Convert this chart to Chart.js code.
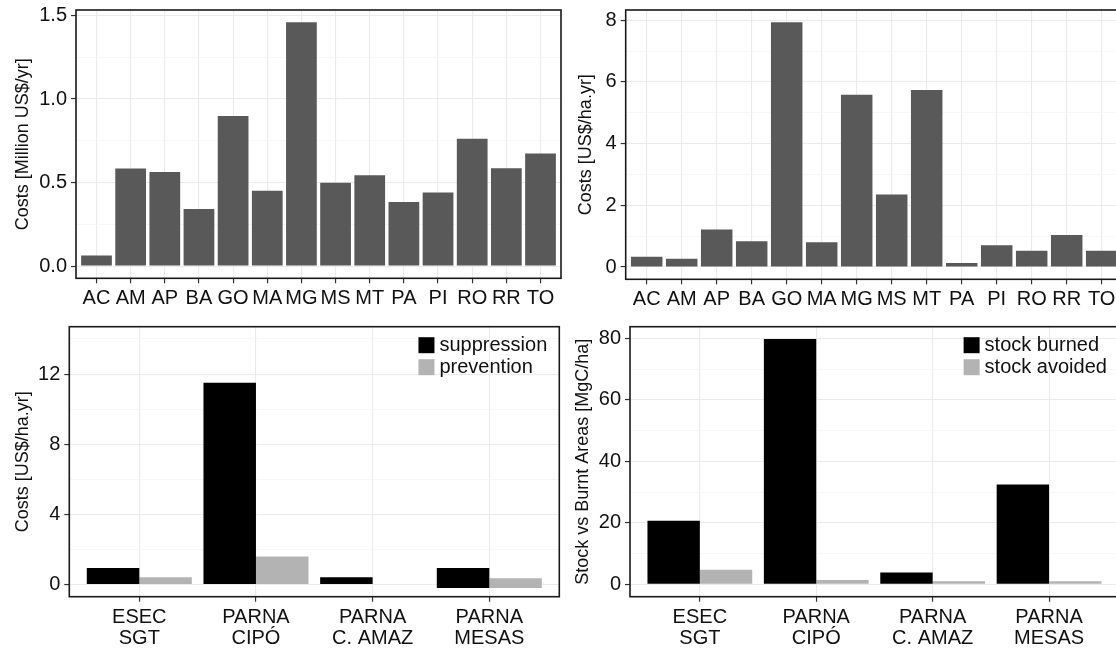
<!DOCTYPE html>
<html><head><meta charset="utf-8">
<script src="https://cdn.jsdelivr.net/npm/chart.js@4.4.1/dist/chart.umd.min.js"></script>
<style>
html,body{margin:0;padding:0;background:#fff;width:1116px;height:653px;overflow:hidden;position:relative}
.p{position:absolute}
canvas{display:block}
</style></head><body>
<div class="p" style="left:0;top:0"><canvas id="c1" width="580" height="320"></canvas></div>
<div class="p" style="left:565px;top:0"><canvas id="c2" width="565" height="320"></canvas></div>
<div class="p" style="left:0;top:300px"><canvas id="c3" width="580" height="353"></canvas></div>
<div class="p" style="left:565px;top:300px"><canvas id="c4" width="565" height="353"></canvas></div>
<script>
// ---- data ----
const states = ['AC','AM','AP','BA','GO','MA','MG','MS','MT','PA','PI','RO','RR','TO'];
const costMillion = [0.064,0.584,0.564,0.342,0.898,0.451,1.460,0.499,0.544,0.383,0.441,0.763,0.586,0.674];
const costPerHa = [0.336,0.271,1.214,0.835,7.935,0.802,5.583,2.352,5.734,0.130,0.705,0.531,1.041,0.531];
const areas = [['ESEC','SGT'],['PARNA','CIPÓ'],['PARNA','C. AMAZ'],['PARNA','MESAS']];
const suppression = [0.95,11.5,0.42,0.95];
const suppressionBase = [0,0,0,-0.2];
const prevention = [0.42,1.6,null,0.36];
const preventionBase = [0,0,0,-0.2];
const stockBurned = [20.7,79.8,3.9,32.5];
const stockAvoided = [4.8,1.4,1.0,1.0];
const ticksMillion = [0,0.5,1.0,1.5];
const ticksPerHa = [0,2,4,6,8];
const ticksCosts = [0,4,8,12];
const ticksStock = [0,20,40,60,80];

const FONT = '"Liberation Sans", Arial, sans-serif';
const TICK_SIZE = 20;

function minorsOf(majors, maxV){
  const step = majors[1]-majors[0];
  const out = [];
  for (let i=0;i<majors.length;i++){ const m = majors[i]+step/2; if (m<maxV) out.push(m); }
  return out;
}

function panel(id, o){
  const minors = minorsOf(o.majors, o.yMax);
  const isMajor = v => o.majors.some(m => Math.abs(m-v)<1e-9);
  const frame = {id:'frame', afterDraw(ch){
    const a = ch.chartArea, c = ch.ctx;
    c.save(); c.strokeStyle = '#1a1a1a'; c.lineWidth = 1.6;
    c.strokeRect(a.left, a.top, a.right-a.left, a.bottom-a.top); c.restore();
  }};
  const legend = {id:'lg', afterDraw(ch){
    if (!o.legend) return;
    const a = ch.chartArea, c = ch.ctx;
    c.save();
    c.font = TICK_SIZE + 'px ' + FONT;
    const tw = Math.max(...ch.data.datasets.map(d => c.measureText(d.label).width));
    const x0 = a.right - 12 - tw - 5 - 16;
    ch.data.datasets.forEach((d,i) => {
      const y = a.top + 10.5 + i*22;
      c.fillStyle = d.backgroundColor; c.fillRect(x0, y, 16, 16);
      c.fillStyle = '#111'; c.textBaseline = 'middle'; c.textAlign = 'left';
      c.fillText(d.label, x0 + 21, y + 8);
    });
    c.restore();
  }};
  return new Chart(document.getElementById(id), {
    type: 'bar',
    data: {datasets: o.datasets},
    options: {
      responsive: false, animation: false, devicePixelRatio: 1,
      layout: {padding: {top: o.padTop, right: o.padRight, left: 0, bottom: 0}},
      plugins: {legend: {display: false}, tooltip: {enabled: false}},
      datasets: {bar: {categoryPercentage: o.catPct, barPercentage: o.barPct, borderWidth: 0}},
      scales: {
        x: {type: 'linear', min: -0.6, max: o.cats.length - 0.4, offset: false,
          afterBuildTicks: s => { s.ticks = o.cats.map((c,i) => ({value: i})); },
          afterFit: s => { s.height = o.xH; s.paddingLeft = 0; s.paddingRight = 0; },
          grid: {offset: false, color: '#EBEBEB', lineWidth: 1.1, tickLength: 5, tickColor: '#333', tickWidth: 1.2},
          border: {display: false},
          ticks: {autoSkip: false, maxRotation: 0, minRotation: 0, padding: 5, color: '#111',
            font: {family: FONT, size: TICK_SIZE, lineHeight: 1.05}, callback: v => o.cats[v]}
        },
        y: {type: 'linear', min: o.yMin, max: o.yMax,
          afterBuildTicks: s => { s.ticks = [...o.majors, ...minors].sort((a,b)=>a-b).map(v => ({value: v})); },
          afterFit: s => { s.width = o.yW; s.paddingTop = 0; s.paddingBottom = 0; },
          grid: {
            color: c => isMajor(c.tick.value) ? '#EBEBEB' : '#F3F3F3',
            lineWidth: c => isMajor(c.tick.value) ? 1.1 : 0.7,
            tickLength: 5,
            tickColor: c => isMajor(c.tick.value) ? '#333' : 'rgba(0,0,0,0)',
            tickWidth: 1.2
          },
          border: {display: false},
          ticks: {padding: 4, color: '#111', font: {family: FONT, size: TICK_SIZE},
            callback: v => isMajor(v) ? o.fmt(v) : ''},
          title: {display: true, text: o.title, color: '#111', font: {family: FONT, size: 18},
            padding: {top: o.titlePad, bottom: 0}}
        }
      }
    },
    plugins: [frame, legend]
  });
}

const pts = (arr) => arr.map((v,i) => ({x: i, y: v}));
const fpts = (arr, base) => arr.map((v,i) => ({x: i, y: v == null ? null : [base[i], v]}));

panel('c1', {
  cats: states, majors: ticksMillion, fmt: v => v.toFixed(1),
  yMin: -0.073, yMax: 1.533, padTop: 10, padRight: 19, xH: 41.7, yW: 76, titlePad: 12,
  title: 'Costs [Million US$/yr]', catPct: 1, barPct: 0.9,
  datasets: [{label: 'cost', data: pts(costMillion), backgroundColor: '#595959'}]
});
panel('c2', {
  cats: states, majors: ticksPerHa, fmt: v => String(v),
  yMin: -0.397, yMax: 8.33, padTop: 10, padRight: 7.3, xH: 40.7, yW: 60.7, titlePad: 10.2,
  title: 'Costs [US$/ha.yr]', catPct: 1, barPct: 0.9,
  datasets: [{label: 'cost', data: pts(costPerHa), backgroundColor: '#595959'}]
});
panel('c3', {
  cats: areas, majors: ticksCosts, fmt: v => String(v),
  yMin: -0.69, yMax: 14.7, padTop: 26.7, padRight: 20.7, xH: 56.3, yW: 69.3, titlePad: 12,
  title: 'Costs [US$/ha.yr]', catPct: 0.9, barPct: 1, legend: true,
  datasets: [
    {label: 'suppression', data: fpts(suppression, suppressionBase), backgroundColor: '#000000'},
    {label: 'prevention', data: fpts(prevention, preventionBase), backgroundColor: '#B3B3B3'}
  ]
});
panel('c4', {
  cats: areas, majors: ticksStock, fmt: v => String(v),
  yMin: -4.0, yMax: 83.8, padTop: 26.7, padRight: 11.1, xH: 56.3, yW: 65, titlePad: 7.2,
  title: 'Stock vs Burnt Areas [MgC/ha]', catPct: 0.9, barPct: 1, legend: true,
  datasets: [
    {label: 'stock burned', data: pts(stockBurned), backgroundColor: '#000000'},
    {label: 'stock avoided', data: pts(stockAvoided), backgroundColor: '#B3B3B3'}
  ]
});
</script>
</body></html>
